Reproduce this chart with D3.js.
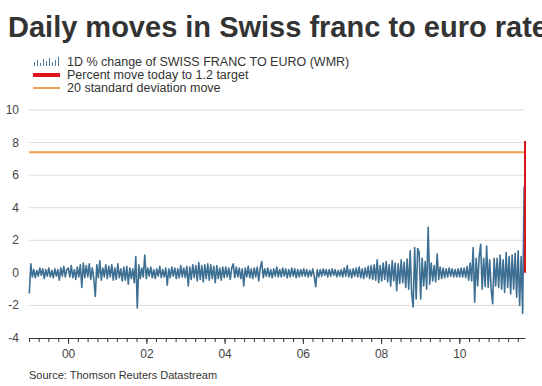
<!DOCTYPE html>
<html>
<head>
<meta charset="utf-8">
<script src="https://cdn.jsdelivr.net/npm/d3@7"></script>
<style>
  body { margin: 0; background: #fff; }
  svg { display: block; font-family: Arial, "Liberation Sans", sans-serif; }
</style>
</head>
<body>
<div id="chart"></div>
<script>
// fortnightly samples of the 1-day % change
const startDate = "1999-01-04";
const stepDays = 14;
const moves1999 = [-1.27, 0.55, -0.25, 0.2, -0.3, 0.15, -0.2, 0.3, -0.15, 0.25, -0.35, 0.2, -0.2, 0.3, -0.25, 0.15, -0.3, 0.25, -0.2, 0.2, -0.45, 0.3, -0.2, 0.4, -0.25, 0.2];
const moves2000 = [0.3, -0.25, 0.45, -0.3, 0.2, -0.4, 0.35, -0.25, 0.5, -0.9, 0.6, -0.3, 0.45, -0.25, 0.55, -0.4, 0.3, -0.35, -1.45, 0.5, -0.3, 0.74, -0.45, 0.3, -0.25, 0.5];
const moves2001 = [-0.35, 0.4, -0.25, 0.5, -0.45, 0.3, -0.4, 0.55, -0.3, 0.25, -0.5, 0.35, -0.45, 0.4, -0.7, 0.3, -0.35, 0.25, -0.6, 1.0, -2.15, 0.5, -0.35, 0.3, -0.25, 1.1];
const moves2002 = [-0.35, 0.3, -0.2, 0.35, -0.3, 0.2, -0.35, 0.25, -0.2, 0.4, -0.3, 0.2, -0.25, 0.3, -0.75, 0.25, -0.3, 0.35, -0.2, 0.3, -0.35, 0.25, -0.3, 0.45, -0.25, 0.3];
const moves2003 = [-0.3, 0.4, -0.8, 0.35, -0.4, 0.5, -0.3, 0.45, -0.5, 0.63, -0.4, 0.45, -0.55, 0.5, -0.35, 0.55, -0.45, 0.5, -0.35, 0.4, -0.6, 0.45, -0.35, 0.3, -0.45, 0.35];
const moves2004 = [-0.3, 0.35, -0.25, 0.3, -0.4, 0.3, 0.55, -0.3, 0.35, -0.25, 0.3, -0.35, 0.25, -0.8, 0.3, -0.25, 0.4, -0.3, 0.25, -0.35, 0.3, -0.25, 0.35, -0.5, 0.3, 0.7];
const moves2005 = [-0.3, 0.25, -0.2, 0.3, -0.25, 0.2, -0.3, 0.25, -0.2, 0.35, -0.25, 0.2, -0.25, 0.3, -0.2, 0.25, -0.3, 0.2, -0.25, 0.3, -0.2, 0.25, -0.3, 0.2, -0.25, 0.2];
const moves2006 = [-0.2, 0.25, -0.2, 0.2, -0.25, 0.15, -0.2, 0.25, -0.2, -0.85, 0.2, -0.25, 0.2, -0.2, 0.25, -0.15, 0.2, -0.25, 0.2, -0.2, 0.25, -0.15, 0.2, -0.25, 0.15, -0.2];
const moves2007 = [0.2, -0.25, 0.3, -0.2, 0.45, -0.25, 0.2, -0.3, 0.25, -0.2, 0.3, -0.25, 0.35, -0.3, 0.25, -0.35, 0.3, -0.25, 0.4, -0.35, 0.45, -0.4, 0.5, -0.45, 0.8, -0.6];
const moves2008 = [0.45, -0.5, 0.6, -0.4, 0.7, -0.55, 0.5, -0.8, 0.74, -0.5, 0.6, -1.1, 0.55, -0.65, 0.8, -0.6, 0.65, -0.9, 0.85, -1.0, 1.35, -1.3, -2.1, 1.55, -1.6, 1.5];
const moves2009 = [1.25, -1.6, 0.9, -0.8, 0.7, -1.0, 2.8, -0.7, 0.6, -0.5, 0.45, -0.55, 1.15, -0.4, 0.35, -0.35, 0.3, -0.3, 0.25, -0.25, 0.3, -0.2, 0.25, -0.25, 0.2, -0.25];
const moves2010 = [0.25, -0.25, 0.3, -0.25, 0.3, -0.3, 0.4, -0.45, 0.6, -0.5, 1.55, -1.8, 0.9, -0.8, 1.0, 1.75, -1.0, 0.9, -0.85, 1.65, -0.9, 0.8, -1.0, -1.9, 0.9, -0.8];
const moves2011 = [0.9, -0.9, 1.1, -1.0, 0.8, -1.2, 1.25, -0.9, 1.0, -1.3, 1.1, -1.0, 1.2, -1.5, 1.35, -2.0, 1.0, -2.5, 5.3];

const todayDate = "2011-09-06";
const todayMove = 8.1;
const sdMove = 7.4;

const yTicks = [-4, -2, 0, 2, 4, 6, 8, 10];
const yearTicks = ["2000", "2002", "2004", "2006", "2008", "2010"];

const legendLabels = ["1D % change of SWISS FRANC TO EURO (WMR)", "Percent move today to 1.2 target", "20 standard deviation move"];

const parse = d3.timeParse("%Y-%m-%d");
const allMoves = [].concat(moves1999, moves2000, moves2001, moves2002, moves2003, moves2004, moves2005,
  moves2006, moves2007, moves2008, moves2009, moves2010, moves2011);
const series = allMoves.map((v, i) => ({ date: d3.timeDay.offset(parse(startDate), i * stepDays), v }));

const W = 542, H = 386;
const svg = d3.select("#chart").append("svg").attr("width", W).attr("height", H);

const x = d3.scaleTime().domain([parse("1999-01-01"), parse(todayDate)]).range([29, 525]);
const y = d3.scaleLinear().domain([-4, 10]).range([338, 110]);

// title
svg.append("text")
  .attr("x", 8).attr("y", 37)
  .style("font-size", "29px").style("font-weight", "bold").style("fill", "#333")
  .text("Daily moves in Swiss franc to euro rate");

// legend
const lg = svg.append("g");
const barH = [4, 6, 3, 7, 5, 8, 4, 6, 9];
barH.forEach((h, i) => {
  lg.append("rect").attr("x", 34 + i * 3).attr("y", 66 - h).attr("width", 1).attr("height", h).attr("fill", "#4a7aa0");
});
lg.append("line").attr("x1", 33).attr("x2", 60).attr("y1", 75).attr("y2", 75)
  .attr("stroke", "#e0141c").attr("stroke-width", 4);
lg.append("line").attr("x1", 33).attr("x2", 60).attr("y1", 88).attr("y2", 88)
  .attr("stroke", "#f0a050").attr("stroke-width", 2);
lg.selectAll("text.leg")
  .data(legendLabels)
  .enter().append("text")
  .attr("class", "leg")
  .attr("x", 67)
  .attr("y", (d, i) => 66 + i * 13)
  .style("font-size", "12.5px").style("fill", "#333")
  .text(d => d);

// grid + y labels
svg.append("g").selectAll("line")
  .data(yTicks.filter(t => t > -4))
  .enter().append("line")
  .attr("x1", 29).attr("x2", 525)
  .attr("y1", d => y(d)).attr("y2", d => y(d))
  .attr("stroke", "#dcdcdc").attr("stroke-width", 1);

svg.append("g").selectAll("text")
  .data(yTicks)
  .enter().append("text")
  .attr("x", 19).attr("y", d => y(d) + 4)
  .attr("text-anchor", "end")
  .style("font-size", "12px").style("fill", "#444")
  .text(d => d);

// x axis
const minorAxis = d3.axisBottom(x).ticks(d3.timeMonth.every(3)).tickSize(4).tickSizeOuter(0).tickFormat("");
const gx = svg.append("g").attr("transform", `translate(0,${y(-4)})`).call(minorAxis);
gx.select(".domain").attr("stroke", "#333");
gx.selectAll(".tick line").attr("stroke", "#333");

const majorAxis = d3.axisBottom(x).tickValues(yearTicks.map(s => parse(s + "-01-01")))
  .tickSize(6).tickFormat(d3.timeFormat("%y"));
const gx2 = svg.append("g").attr("transform", `translate(0,${y(-4)})`).call(majorAxis);
gx2.select(".domain").remove();
gx2.selectAll(".tick line").attr("stroke", "#333");
gx2.selectAll(".tick text").attr("dy", "0.9em").style("font-size", "12px").style("fill", "#444")
  .style("font-family", "Arial, 'Liberation Sans', sans-serif");

// 20 sd line
svg.append("line")
  .attr("x1", x(parse("1999-01-01"))).attr("x2", x(parse(todayDate)))
  .attr("y1", y(sdMove)).attr("y2", y(sdMove))
  .attr("stroke", "#f0a050").attr("stroke-width", 2);

// daily moves
svg.append("path")
  .datum(series)
  .attr("fill", "none")
  .attr("stroke", "#3d6f93")
  .attr("stroke-width", 1.6)
  .attr("stroke-linejoin", "round")
  .attr("d", d3.line().x(d => x(d.date)).y(d => y(d.v)));

// today's move
svg.append("line")
  .attr("x1", x(parse(todayDate))).attr("x2", x(parse(todayDate)))
  .attr("y1", y(0)).attr("y2", y(todayMove))
  .attr("stroke", "#d9141c").attr("stroke-width", 2);

// source
svg.append("text")
  .attr("x", 29).attr("y", 379)
  .style("font-size", "11px").style("fill", "#333")
  .text("Source: Thomson Reuters Datastream");
</script>
</body>
</html>
